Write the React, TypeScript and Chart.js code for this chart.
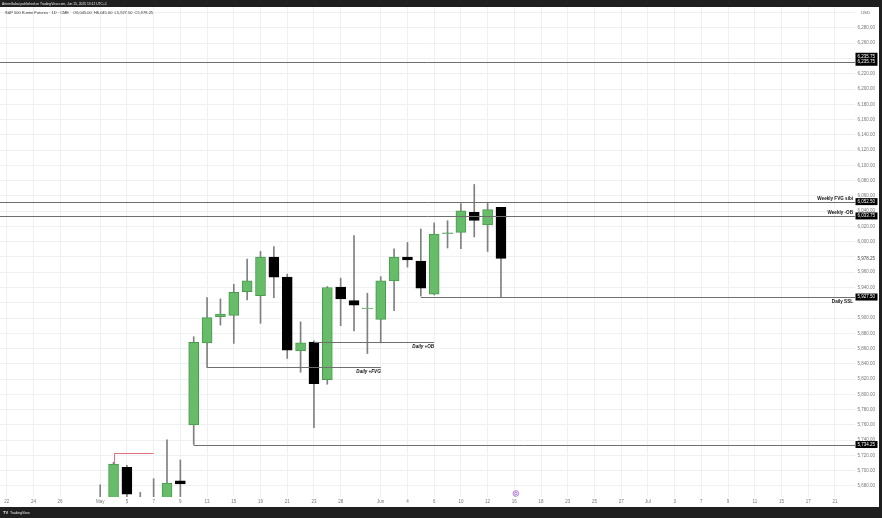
import React, { useEffect, useRef } from 'react';
import { Chart, registerables } from 'chart.js';

Chart.register(...registerables);

// ---------- data ----------
const xTickLabels = [
  '22', '', '24', '', '26', '', '', 'May', '', '5', '', '7', '', '9', '', '13', '', '15', '', '19', '', '21', '', '23', '', '28', '', '',
  'Jun', '', '4', '', '6', '', '10', '', '12', '', '16', '', '18', '', '23', '', '25', '', '27', '', 'Jul', '', '3', '', '7', '', '9', '',
  '11', '', '15', '', '17', '', '21', '',
];

const firstCandleSlot = 7;
const opens = [5640, 5655, 5704.25, 5664, 5630, 5650, 5686.75, 5760, 5867.5, 5901.75, 5903.5, 5934.5, 5929.25, 5980, 5953.5, 5857, 5868.5, 5819.25, 5940.5, 5922.75, 5912.25, 5898.25, 5948.75, 5980, 5974.5, 5931.25, 6010.5, 6012.25, 6038.5, 6022, 6045];
const highs = [5681.5, 5711, 5707, 5671.5, 5689.5, 5740.5, 5714, 5875.5, 5926.75, 5925, 5944.25, 5977.25, 5987.25, 5993.75, 5957.5, 5895, 5870, 5941.25, 5952.25, 6008, 5932.5, 5954.25, 5990.75, 5999, 6016.75, 6024.5, 6027.5, 6050, 6075, 6051.75, 6045];
const lows = [5610, 5640, 5650, 5600, 5600, 5630, 5655, 5734.25, 5835.25, 5890.75, 5866.75, 5923.75, 5893, 5926.75, 5847, 5829, 5756.25, 5813.25, 5890, 5883.25, 5853.5, 5867.5, 5909.5, 5966.75, 5928.75, 5930.25, 5991.75, 5990.75, 6006.25, 5987.25, 5927.5];
const closes = [5655, 5708.75, 5669.25, 5620, 5645, 5683.75, 5682.5, 5868, 5900.5, 5905.25, 5933.75, 5948.75, 5980, 5953.5, 5858, 5867.5, 5814, 5940, 5925, 5916.75, 5913, 5948.75, 5980, 5976.25, 5939, 6010, 6011.75, 6040.5, 6028, 6042, 5978.25];

// horizontal levels (start/end slot; null = chart edge)
const levelValues = [6235.75, 6052.5, 6033.75, 5927.5, 5868.5, 5835.25, 5734.25];
const levelStart = [null, null, null, 31, 23, 15, 14];
const levelEnd = [null, null, null, null, 32, 28, null];
const levelText = ['', 'Weekly FVG sibi', 'Weekly -OB', 'Daily SSL', 'Daily +OB', 'Daily +FVG', ''];
const levelTextSide = ['', 'above', 'above', 'below', 'below', 'below', ''];
const levelTextItalic = [false, false, false, false, true, true, false];

const pinkLevel = 5723.75;
const pinkStart = 8;
const pinkEnd = 11;

const priceBoxes = [6052.5, 6033.75, 5927.5, 5734.25];
const doubleBoxValue = 6235.75;
const lastPrice = 5978.25;
const hiddenTicks = [6300, 6240, 5980, 5920];

const yMin = 5665.5;
const yMax = 6307.5;

const headerAuthor = 'ArtemGabai published on TradingView.com, Jun 15, 2025 13:12 UTC+1';
const headerSymbol = 'S&P 500 E-mini Futures · 1D · CME';
const headerOHLC = 'O6,045.00  H6,045.00  L5,927.50  C5,978.25';

const FONT = '"Liberation Sans", Arial, sans-serif';
const GREEN = '#67bc6a';
const GREEN_BORDER = '#4a9a4d';

const fmt = (v: number) =>
  v.toLocaleString('en-US', { minimumFractionDigits: 2, maximumFractionDigits: 2 });

function pad<T>(arr: T[]): (T | null)[] {
  const out: (T | null)[] = new Array(xTickLabels.length).fill(null);
  arr.forEach((v, k) => {
    out[firstCandleSlot + k] = v;
  });
  return out;
}

const annotPlugin = {
  id: 'annot',
  afterDatasetsDraw(chart: any) {
    const { ctx, chartArea: a, scales } = chart;
    const x = scales.x;
    const y = scales.y;
    ctx.save();
    ctx.beginPath();
    ctx.rect(a.left, a.top, a.right - a.left, a.bottom - a.top);
    ctx.clip();
    ctx.lineWidth = 1;
    ctx.strokeStyle = '#6f6f6f';
    levelValues.forEach((lv, k) => {
      const yy = Math.round(y.getPixelForValue(lv)) + 0.5;
      const x0 = levelStart[k] == null ? a.left : x.getPixelForValue(levelStart[k]);
      const x1 = levelEnd[k] == null ? a.right : x.getPixelForValue(levelEnd[k]);
      ctx.beginPath();
      ctx.moveTo(x0, yy);
      ctx.lineTo(x1, yy);
      ctx.stroke();
      if (levelText[k]) {
        ctx.fillStyle = '#111';
        ctx.font = `${levelTextItalic[k] ? 'italic ' : ''}bold 4.6px ${FONT}`;
        ctx.textAlign = 'right';
        ctx.textBaseline = 'middle';
        const tx = levelEnd[k] == null ? a.right - 2 : x1;
        const ty = levelTextSide[k] === 'above' ? yy - 3.5 : yy + 4;
        ctx.fillText(levelText[k], tx, ty);
      }
    });
    // pink level
    ctx.strokeStyle = '#e0707e';
    const py = Math.round(y.getPixelForValue(pinkLevel)) + 0.5;
    const px0 = Math.round(x.getPixelForValue(pinkStart)) + 0.5;
    ctx.beginPath();
    ctx.moveTo(px0, y.getPixelForValue(closes[pinkStart - firstCandleSlot]));
    ctx.lineTo(px0, py);
    ctx.lineTo(x.getPixelForValue(pinkEnd), py);
    ctx.stroke();
    ctx.restore();
  },
  afterDraw(chart: any) {
    const { ctx, chartArea: a, scales, width, height } = chart;
    const x = scales.x;
    const y = scales.y;
    ctx.save();
    // frame
    ctx.fillStyle = '#1f1f1f';
    ctx.fillRect(0, 0, width, 7);
    ctx.fillRect(0, 507, width, height - 507);
    ctx.fillRect(879, 0, width - 879, height);
    ctx.fillStyle = '#e8e8e8';
    ctx.font = `3.3px ${FONT}`;
    ctx.textAlign = 'left';
    ctx.textBaseline = 'middle';
    ctx.fillText(headerAuthor, 2, 3.6);
    ctx.font = `bold 4px ${FONT}`;
    ctx.fillText('TV', 3, 512.8);
    ctx.font = `3.6px ${FONT}`;
    ctx.fillText('TradingView', 10, 512.8);

    // symbol line
    ctx.fillStyle = '#333';
    ctx.font = `4px ${FONT}`;
    ctx.fillText(headerSymbol, 5, 12.6);
    const w = ctx.measureText(headerSymbol).width;
    ctx.fillText(headerOHLC, 5 + w + 4, 12.6);
    // USD
    ctx.fillStyle = '#666';
    ctx.font = `4.3px ${FONT}`;
    ctx.fillText('USD', 861, 13);

    // last price (plain)
    ctx.fillStyle = '#444';
    ctx.font = `4.5px ${FONT}`;
    ctx.fillText(fmt(lastPrice), 857.5, y.getPixelForValue(lastPrice));

    // price boxes
    const boxL = 855.5;
    const boxW = 22;
    ctx.font = `4.5px ${FONT}`;
    priceBoxes.forEach((v) => {
      const yy = y.getPixelForValue(v);
      ctx.fillStyle = '#000';
      ctx.fillRect(boxL, yy - 3.5, boxW, 7);
      ctx.fillStyle = '#fff';
      ctx.fillText(fmt(v), 857.5, yy);
    });
    const dy = y.getPixelForValue(doubleBoxValue);
    ctx.fillStyle = '#000';
    ctx.fillRect(boxL, dy - 9, boxW, 13);
    ctx.fillStyle = '#fff';
    ctx.fillText(fmt(doubleBoxValue), 857.5, dy - 5);
    ctx.fillText(fmt(doubleBoxValue), 857.5, dy);

    // event icon
    const ix = x.getPixelForValue(38) + 1.5;
    const iy = a.bottom - 3.5;
    ctx.strokeStyle = '#9b59d0';
    ctx.lineWidth = 0.8;
    ctx.beginPath();
    ctx.arc(ix, iy, 2.8, 0, Math.PI * 2);
    ctx.stroke();
    ctx.beginPath();
    ctx.arc(ix, iy, 1.2, 0, Math.PI * 2);
    ctx.stroke();
    ctx.restore();
  },
};

export default function App() {
  const ref = useRef<HTMLCanvasElement | null>(null);

  useEffect(() => {
    if (!ref.current) return;
    const bodies = pad(opens.map((o, k) => [o, closes[k]] as [number, number]));
    const wicks = pad(lows.map((l, k) => [l, highs[k]] as [number, number]));
    const up = pad(opens.map((o, k) => closes[k] >= o));
    const fill = up.map((u) => (u ? GREEN : '#000000'));
    const border = up.map((u) => (u ? GREEN_BORDER : '#000000'));

    const chart = new Chart(ref.current, {
      type: 'bar',
      data: {
        labels: xTickLabels,
        datasets: [
          {
            data: bodies as any,
            backgroundColor: fill,
            borderColor: border,
            borderWidth: 1,
            borderSkipped: false,
            barThickness: 10,
            grouped: false,
            order: 1,
          } as any,
          {
            data: wicks as any,
            backgroundColor: '#808080',
            borderWidth: 0,
            barThickness: 1,
            grouped: false,
            order: 2,
          } as any,
        ],
      },
      options: {
        animation: false,
        responsive: false,
        maintainAspectRatio: false,
        devicePixelRatio: 1,
        layout: { padding: { top: 7, right: 3, bottom: 11, left: 0 } },
        plugins: { legend: { display: false }, tooltip: { enabled: false } },
        scales: {
          x: {
            type: 'category',
            offset: true,
            grid: {
              offset: false,
              drawTicks: false,
              color: (c: any) => (c.tick && c.tick.label ? '#eef0f3' : 'rgba(0,0,0,0)'),
            },
            border: { display: false },
            ticks: {
              autoSkip: false,
              maxRotation: 0,
              minRotation: 0,
              padding: 2,
              color: '#777',
              font: { size: 4.5, family: FONT },
            },
            afterFit: (s: any) => {
              s.height = 10;
            },
          },
          y: {
            position: 'right',
            min: yMin,
            max: yMax,
            grid: { drawTicks: false, color: '#eef0f3' },
            border: { display: false },
            ticks: {
              stepSize: 20,
              includeBounds: false,
              padding: 2.5,
              color: '#777',
              font: { size: 4.5, family: FONT },
              callback: (v: any) => (hiddenTicks.includes(Number(v)) ? '' : fmt(Number(v))),
            },
            afterFit: (s: any) => {
              s.width = 24;
            },
          },
        },
      },
      plugins: [annotPlugin],
    } as any);

    return () => chart.destroy();
  }, []);

  return (
    <div style={{ position: 'fixed', left: 0, top: 0, width: 882, height: 518, background: '#fff' }}>
      <canvas ref={ref} width={882} height={518} style={{ display: 'block' }} />
    </div>
  );
}
